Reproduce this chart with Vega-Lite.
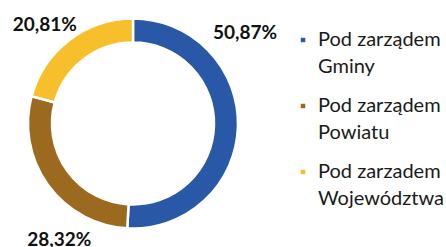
{
  "$schema": "https://vega.github.io/schema/vega-lite/v6.json",
  "width": 266,
  "height": 247,
  "padding": 0,
  "background": "white",
  "config": {"view": {"stroke": null}, "style": {"guide-label": {"lineHeight": 27}}},
  "data": {
    "values": [
      {"kategoria": "Pod zarządem Gminy", "value": 50.87, "label": "50,87%"},
      {"kategoria": "Pod zarządem Powiatu", "value": 28.32, "label": "28,32%"},
      {"kategoria": "Pod zarzadem Województwa", "value": 20.81, "label": "20,81%"}
    ]
  },
  "layer": [
    {
      "mark": {"type": "arc", "outerRadius": 105, "innerRadius": 81, "stroke": "white", "strokeWidth": 2.5},
      "encoding": {
        "theta": {"field": "value", "type": "quantitative", "stack": true, "scale": {"domain": [0, 100], "range": [0, 6.283185]}},
        "order": {"field": "value", "sort": "descending"},
        "color": {
          "field": "kategoria",
          "type": "nominal",
          "sort": ["Pod zarządem Gminy", "Pod zarządem Powiatu", "Pod zarzadem Województwa"],
          "scale": {"domain": ["Pod zarządem Gminy", "Pod zarządem Powiatu", "Pod zarzadem Województwa"], "range": ["#2858A6", "#9C6A1F", "#F8BF2C"]},
          "legend": {
            "orient": "none",
            "legendX": 293,
            "legendY": 30,
            "title": null,
            "symbolType": "square",
            "symbolSize": 36,
            "labelFont": "Lato",
            "labelFontSize": 20,
            "labelColor": "#1a1a1a",
            "labelLimit": 300,
            "labelOffset": 5,
            "rowPadding": 19,
            "labelExpr": "[slice(datum.label,0,12), slice(datum.label,13)]"
          }
        }
      }
    },
    {
      "transform": [
        {"stack": "value", "groupby": [], "sort": [{"field": "value", "order": "descending"}], "as": ["v0", "v1"]},
        {"filter": "datum.kategoria == 'Pod zarządem Gminy'"}
      ],
      "mark": {"type": "text", "radius": 140, "dx": 112, "dy": 49, "font": "Lato", "fontWeight": "bold", "fontSize": 19, "color": "#111", "align": "center", "baseline": "middle"},
      "encoding": {
        "theta": {"field": "v0", "type": "quantitative", "scale": {"domain": [0, 100], "range": [0, 6.283185]}},
        "text": {"field": "label"}
      }
    },
    {
      "transform": [
        {"stack": "value", "groupby": [], "sort": [{"field": "value", "order": "descending"}], "as": ["v0", "v1"]},
        {"filter": "datum.kategoria == 'Pod zarządem Powiatu'"}
      ],
      "mark": {"type": "text", "radius": 140, "dx": -66, "dy": -23, "font": "Lato", "fontWeight": "bold", "fontSize": 19, "color": "#111", "align": "center", "baseline": "middle"},
      "encoding": {
        "theta": {"field": "v0", "type": "quantitative", "scale": {"domain": [0, 100], "range": [0, 6.283185]}},
        "text": {"field": "label"}
      }
    },
    {
      "transform": [
        {"stack": "value", "groupby": [], "sort": [{"field": "value", "order": "descending"}], "as": ["v0", "v1"]},
        {"filter": "datum.kategoria == 'Pod zarzadem Województwa'"}
      ],
      "mark": {"type": "text", "radius": 140, "dx": 47, "dy": -62, "font": "Lato", "fontWeight": "bold", "fontSize": 19, "color": "#111", "align": "center", "baseline": "middle"},
      "encoding": {
        "theta": {"field": "v0", "type": "quantitative", "scale": {"domain": [0, 100], "range": [0, 6.283185]}},
        "text": {"field": "label"}
      }
    }
  ]
}
